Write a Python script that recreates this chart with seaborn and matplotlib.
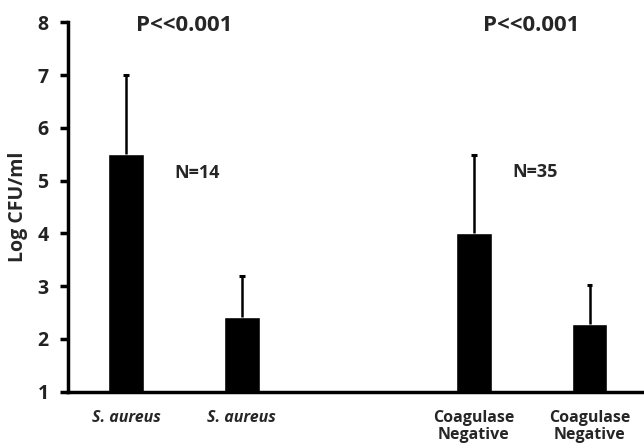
import matplotlib
matplotlib.use("Agg")
import matplotlib.pyplot as plt
import seaborn as sns
import pandas as pd

categories = ["S. aureus (a)", "S. aureus (b)", "gap", "Coagulase Negative (a)", "Coagulase Negative (b)"]
bar_categories = ["S. aureus (a)", "S. aureus (b)", "Coagulase Negative (a)", "Coagulase Negative (b)"]
means = [5.5, 2.42, 4.0, 2.28]
upper_err = [1.5, 0.78, 1.48, 0.75]
tick_labels = ["S. aureus", "S. aureus", "", "Coagulase\nNegative", "Coagulase\nNegative"]
p_labels = ["P<<0.001", "P<<0.001"]
n_labels = ["N=14", "N=35"]

sns.set_style("white")
plt.rcParams['font.family'] = ['Open Sans', 'DejaVu Sans']
plt.rcParams['ytick.left'] = True
plt.rcParams['ytick.major.size'] = 6
plt.rcParams['ytick.major.width'] = 2.5

fig = plt.figure(figsize=(6.44, 4.47), dpi=100)
ax = fig.add_axes([68/644, 1-391.7/447, 1-68/644, (391.7-22.3)/447])

df = pd.DataFrame({"cat": bar_categories, "val": means})
sns.barplot(data=df, x="cat", y="val", order=categories, color="black",
            width=0.31, saturation=1, ax=ax, errorbar=None)

cap_half = 0.025
for p, e in zip(ax.patches, upper_err):
    xc = p.get_x() + p.get_width() / 2
    h = p.get_height()
    ax.vlines(xc, h, h + e, color="black", linewidth=1.8)
    ax.hlines(h + e, xc - cap_half, xc + cap_half, color="black", linewidth=2.2)

ax.set_ylim(1, 8)
ax.set_xlim(-0.5, 4.47)
ax.set_yticks(range(1, 9))
ax.set_yticklabels([str(v) for v in range(1, 9)], fontsize=14, fontweight="bold", color="#222222")
ax.set_xticks(range(len(categories)))
ax.set_xticklabels(tick_labels, fontsize=11.5, fontweight="bold", linespacing=1.1)
for t in ax.get_xticklabels():
    if "aureus" in t.get_text():
        t.set_fontstyle("italic")
ax.tick_params(axis="x", bottom=False, length=0, pad=13)
ax.tick_params(axis="y", which="major", left=True, length=6, width=2.5,
               direction="out", pad=8, color="black")
ax.set_xlabel("")
ax.set_ylabel("Log CFU/ml", fontsize=14, fontweight="bold", labelpad=7)

for s in ["top", "right"]:
    ax.spines[s].set_visible(False)
for s in ["left", "bottom"]:
    ax.spines[s].set_linewidth(2.5)
    ax.spines[s].set_color("black")

ax.text(0.5, 7.93, p_labels[0], ha="center", va="center", fontsize=16, fontweight="bold")
ax.text(3.5, 7.93, p_labels[1], ha="center", va="center", fontsize=16, fontweight="bold")
ax.text(0.61, 5.15, n_labels[0], ha="center", va="center", fontsize=13, fontweight="bold")
ax.text(3.53, 5.17, n_labels[1], ha="center", va="center", fontsize=13, fontweight="bold")

fig.savefig("out.png", dpi=100)
